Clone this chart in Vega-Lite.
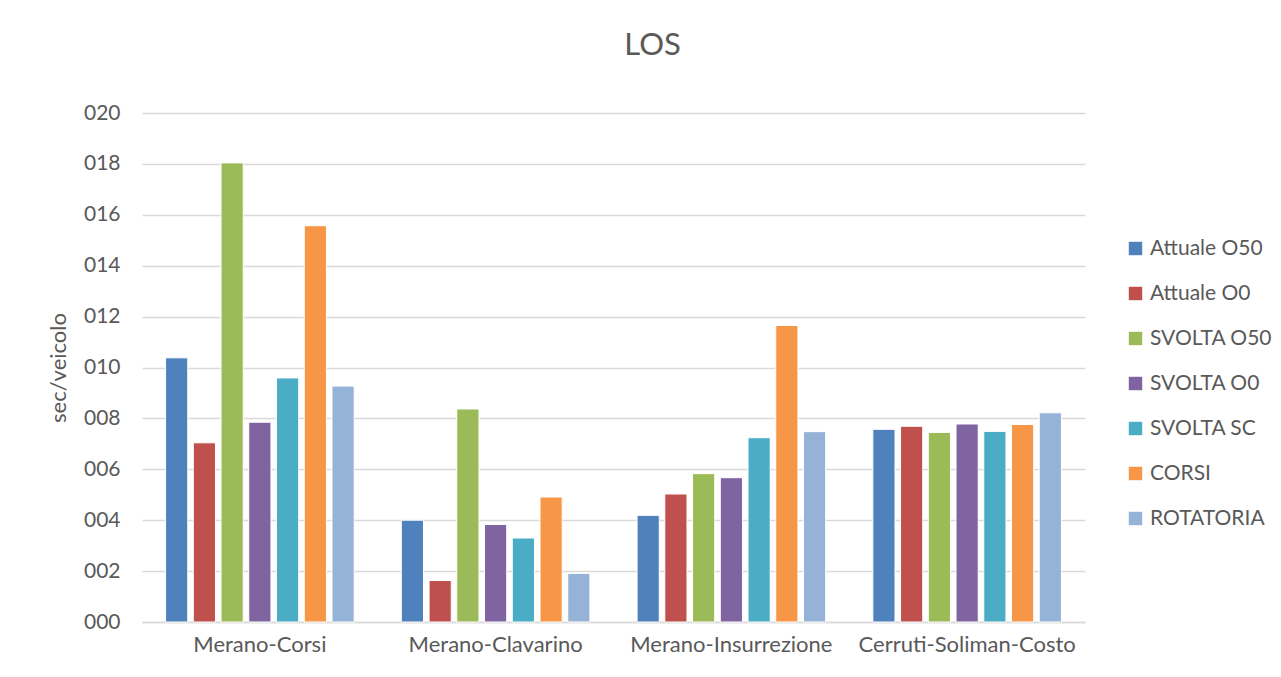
{
  "$schema": "https://vega.github.io/schema/vega-lite/v6.json",
  "width": 943,
  "height": 509,
  "autosize": {"type": "none"},
  "padding": {"left": 142, "top": 113, "right": 196, "bottom": 55},
  "background": "white",
  "title": {"text": "LOS", "fontSize": 31, "font": "Lato", "fontWeight": "normal", "color": "#595959", "anchor": "middle", "dx": 39, "offset": 40},
  "config": {
    "view": {"stroke": null},
    "font": "Lato"
  },
  "data": {"values": [
    {"Tratto": "Merano-Corsi", "Scenario": "Attuale O50", "v": 10.38},
    {"Tratto": "Merano-Corsi", "Scenario": "Attuale O0", "v": 7.04},
    {"Tratto": "Merano-Corsi", "Scenario": "SVOLTA O50", "v": 18.04},
    {"Tratto": "Merano-Corsi", "Scenario": "SVOLTA O0", "v": 7.85},
    {"Tratto": "Merano-Corsi", "Scenario": "SVOLTA SC", "v": 9.59},
    {"Tratto": "Merano-Corsi", "Scenario": "CORSI", "v": 15.57},
    {"Tratto": "Merano-Corsi", "Scenario": "ROTATORIA", "v": 9.27},
    {"Tratto": "Merano-Clavarino", "Scenario": "Attuale O50", "v": 4.0},
    {"Tratto": "Merano-Clavarino", "Scenario": "Attuale O0", "v": 1.63},
    {"Tratto": "Merano-Clavarino", "Scenario": "SVOLTA O50", "v": 8.37},
    {"Tratto": "Merano-Clavarino", "Scenario": "SVOLTA O0", "v": 3.83},
    {"Tratto": "Merano-Clavarino", "Scenario": "SVOLTA SC", "v": 3.3},
    {"Tratto": "Merano-Clavarino", "Scenario": "CORSI", "v": 4.91},
    {"Tratto": "Merano-Clavarino", "Scenario": "ROTATORIA", "v": 1.91},
    {"Tratto": "Merano-Insurrezione", "Scenario": "Attuale O50", "v": 4.19},
    {"Tratto": "Merano-Insurrezione", "Scenario": "Attuale O0", "v": 5.03},
    {"Tratto": "Merano-Insurrezione", "Scenario": "SVOLTA O50", "v": 5.83},
    {"Tratto": "Merano-Insurrezione", "Scenario": "SVOLTA O0", "v": 5.67},
    {"Tratto": "Merano-Insurrezione", "Scenario": "SVOLTA SC", "v": 7.24},
    {"Tratto": "Merano-Insurrezione", "Scenario": "CORSI", "v": 11.65},
    {"Tratto": "Merano-Insurrezione", "Scenario": "ROTATORIA", "v": 7.48},
    {"Tratto": "Cerruti-Soliman-Costo", "Scenario": "Attuale O50", "v": 7.57},
    {"Tratto": "Cerruti-Soliman-Costo", "Scenario": "Attuale O0", "v": 7.69},
    {"Tratto": "Cerruti-Soliman-Costo", "Scenario": "SVOLTA O50", "v": 7.45},
    {"Tratto": "Cerruti-Soliman-Costo", "Scenario": "SVOLTA O0", "v": 7.78},
    {"Tratto": "Cerruti-Soliman-Costo", "Scenario": "SVOLTA SC", "v": 7.49},
    {"Tratto": "Cerruti-Soliman-Costo", "Scenario": "CORSI", "v": 7.76},
    {"Tratto": "Cerruti-Soliman-Costo", "Scenario": "ROTATORIA", "v": 8.22}
  ]},
  "mark": {"type": "bar", "stroke": "white", "strokeWidth": 1},
  "encoding": {
    "x": {
      "field": "Tratto", "type": "nominal",
      "sort": ["Merano-Corsi", "Merano-Clavarino", "Merano-Insurrezione", "Cerruti-Soliman-Costo"],
      "scale": {"paddingInner": 0.2, "paddingOuter": 0.1},
      "axis": {"title": null, "labelAngle": 0, "labelFontSize": 22, "labelLimit": 400, "labelColor": "#595959", "labelPadding": 12, "ticks": false, "domainColor": "#d9d9d9", "domainWidth": 1.5}
    },
    "xOffset": {
      "field": "Scenario", "type": "nominal",
      "sort": ["Attuale O50", "Attuale O0", "SVOLTA O50", "SVOLTA O0", "SVOLTA SC", "CORSI", "ROTATORIA"],
      "scale": {"paddingInner": 0.2}
    },
    "y": {
      "field": "v", "type": "quantitative",
      "scale": {"domain": [0, 20], "nice": false},
      "axis": {"title": "sec/veicolo", "titleFontSize": 22, "titleFont": "Lato", "titleFontWeight": "normal", "titleColor": "#595959", "titlePadding": 13,
               "values": [0, 2, 4, 6, 8, 10, 12, 14, 16, 18, 20], "format": "03d",
               "labelFontSize": 21, "labelColor": "#595959", "labelPadding": 22, "ticks": false, "domain": false,
               "gridColor": "#d9d9d9", "gridWidth": 1.5}
    },
    "color": {
      "field": "Scenario", "type": "nominal",
      "sort": ["Attuale O50", "Attuale O0", "SVOLTA O50", "SVOLTA O0", "SVOLTA SC", "CORSI", "ROTATORIA"],
      "scale": {"domain": ["Attuale O50", "Attuale O0", "SVOLTA O50", "SVOLTA O0", "SVOLTA SC", "CORSI", "ROTATORIA"],
                "range": ["#4f81bd", "#c0504d", "#9bbb59", "#8064a2", "#4bacc6", "#f79646", "#95b3d7"]},
      "legend": {"title": null, "orient": "none", "legendX": 983, "legendY": 125, "symbolType": "square", "symbolSize": 180, "symbolStrokeWidth": 0,
                 "labelFontSize": 21, "labelColor": "#595959", "rowPadding": 23, "labelOffset": 4, "labelLimit": 300}
    }
  }
}
